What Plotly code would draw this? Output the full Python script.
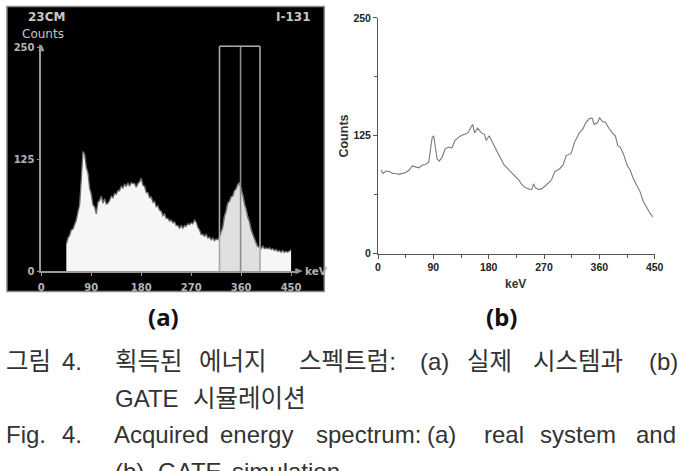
import plotly.graph_objects as go

W, H = 686, 471

# ---------------- data: panel (a) measured spectrum ----------------
a_kev = list(range(45, 451, 3))
a_counts = [30, 37, 40, 46, 47, 53, 57, 66, 74, 102, 134, 131, 116, 110, 93, 86, 74, 72, 64, 77,
            79, 84, 76, 81, 75, 76, 79, 84, 82, 87, 86, 90, 90, 95, 93, 97, 95, 99, 95, 99,
            98, 98, 94, 98, 100, 104, 96, 95, 88, 88, 82, 83, 77, 78, 72, 73, 68, 67, 62, 64,
            59, 59, 56, 57, 54, 55, 51, 51, 48, 51, 48, 51, 50, 53, 52, 54, 53, 57, 55, 49,
            46, 41, 41, 39, 41, 37, 38, 35, 37, 34, 36, 35, 38, 43, 49, 61, 67, 76, 78, 83,
            84, 90, 92, 97, 99, 91, 85, 75, 69, 60, 55, 46, 41, 34, 31, 27, 27, 25, 28, 25,
            26, 25, 26, 24, 25, 23, 24, 22, 23, 21, 23, 21, 22, 21, 23, 24]
a_window = [321, 359, 394]          # energy window lines (keV)
a_window_top = 252
a_xticks = [0, 90, 180, 270, 360, 450]
a_yticks = [0, 125, 250]

# ---------------- data: panel (b) GATE simulation ----------------
b_kev = [5, 8, 13, 18.6, 24, 29, 34.6, 40, 45, 50.6, 56, 61, 66.6, 72, 77, 82.5, 85, 88, 90.5, 93,
         96, 99.6, 104, 109, 114.5, 120, 125, 130.5, 136, 141, 146, 152, 154, 157, 162, 168, 173,
         176, 181, 186, 192, 197, 205, 213, 221, 229, 234, 240, 247.6, 250, 253, 256, 261, 266,
         274, 282, 287.6, 295.6, 301, 306, 314, 319.5, 327.5, 333, 338, 343.5, 348, 351.5, 357,
         360.5, 365, 370, 375.5, 381, 386, 390, 394, 399, 405, 410, 415, 421, 426, 431, 437, 442, 447]
b_counts = [88.6, 85, 87.6, 87, 85, 85, 84, 85, 86, 88.6, 93, 92, 91, 94, 94.5, 97, 109, 123, 125, 114.5,
            100.7, 98, 102, 111, 113, 112, 120, 123, 125.5, 126.5, 128, 135, 137, 128, 133, 128, 126.5,
            120, 125, 118, 111, 104, 94, 88.6, 83, 78, 73, 69.7, 68, 68, 74, 69.7, 68, 68.6,
            73, 78, 87, 90, 94, 104, 106, 118, 128, 132, 139, 143, 144, 137, 139,
            144, 140, 139, 133, 128, 125, 114.5, 113, 106, 94, 88.6, 80, 73, 66, 56, 49, 43, 39]
b_xticks = [0, 90, 180, 270, 360, 450]
b_yticks = [0, 125, 250]


def px(x):
    return x / W


def py(y):
    return 1 - y / H


fig = go.Figure()

# panel (a) traces
fig.add_trace(go.Scatter(x=a_kev, y=a_counts, mode="lines", fill="tozeroy",
                         fillcolor="#f6f6f6", line=dict(color="#6f6f6f", width=1.3),
                         xaxis="x", yaxis="y", hoverinfo="skip", showlegend=False))
win_x = [k for k in a_kev if a_window[0] <= k <= a_window[2]]
win_y = [c for k, c in zip(a_kev, a_counts) if a_window[0] <= k <= a_window[2]]
fig.add_trace(go.Scatter(x=win_x, y=win_y, mode="lines", fill="tozeroy",
                         fillcolor="#e0e0e0", line=dict(color="#6f6f6f", width=1.3),
                         xaxis="x", yaxis="y", hoverinfo="skip", showlegend=False))

# panel (b) trace
fig.add_trace(go.Scatter(x=b_kev, y=b_counts, mode="lines",
                         line=dict(color="#7a7a7a", width=1.1),
                         xaxis="x2", yaxis="y2", hoverinfo="skip", showlegend=False))

shapes = []
# black background of panel (a)
shapes.append(dict(type="rect", xref="paper", yref="paper", x0=px(4), x1=px(327),
                   y0=py(293), y1=py(0.5), fillcolor="black",
                   line=dict(color="#8a8a8a", width=1.5), layer="below"))
# energy window
for k in a_window:
    shapes.append(dict(type="line", xref="x", yref="y", x0=k, x1=k, y0=0, y1=a_window_top,
                       line=dict(color="#a8a8a8" if k != a_window[1] else "#8c8c8c", width=1.6),
                       layer="above"))
shapes.append(dict(type="line", xref="x", yref="y", x0=a_window[0], x1=a_window[2],
                   y0=a_window_top, y1=a_window_top, line=dict(color="#a8a8a8", width=1.6)))
# arrow heads of panel (a) axes
shapes.append(dict(type="path", xref="paper", yref="paper",
                   path=f"M {px(36.5)} {py(46)} L {px(39)} {py(40)} L {px(41.5)} {py(46)} Z",
                   fillcolor="#9a9a9a", line=dict(color="#9a9a9a", width=1)))
shapes.append(dict(type="path", xref="paper", yref="paper",
                   path=f"M {px(298)} {py(269.5)} L {px(304)} {py(272)} L {px(298)} {py(274.5)} Z",
                   fillcolor="#9a9a9a", line=dict(color="#9a9a9a", width=1)))

ann = []
fa = "DejaVu Sans"
ann.append(dict(x=px(23), y=py(11), text="<b>23CM</b>", xanchor="left", yanchor="middle",
                font=dict(family=fa, size=12, color="#c8c8c8")))
ann.append(dict(x=px(316), y=py(11), text="<b>I-131</b>", xanchor="right", yanchor="middle",
                font=dict(family=fa, size=12, color="#c8c8c8")))
ann.append(dict(x=px(17), y=py(29), text="Counts", xanchor="left", yanchor="middle",
                font=dict(family=fa, size=12, color="#c8c8c8")))
ann.append(dict(x=px(305), y=py(272), text="<b>keV</b>", xanchor="left", yanchor="middle",
                font=dict(family=fa, size=10.5, color="#b0b0b0")))
# panel (b) titles
fb = "Liberation Sans, Arial"
ann.append(dict(x=px(522), y=py(285), text="<b>keV</b>", xanchor="center", yanchor="middle",
                font=dict(family=fb, size=12, color="#333333")))
ann.append(dict(x=px(347), y=py(133), text="<b>Counts</b>", xanchor="center", yanchor="middle",
                textangle=-90, font=dict(family=fb, size=12.5, color="#333333")))
# sub captions
fc = "Noto Sans, Liberation Sans"
ann.append(dict(x=px(163), y=py(319), text="<b>(a)</b>", xanchor="center", yanchor="middle",
                font=dict(family=fc, size=24, color="#111111")))
ann.append(dict(x=px(507), y=py(319), text="<b>(b)</b>", xanchor="center", yanchor="middle",
                font=dict(family=fc, size=24, color="#111111")))

# figure caption, word by word (justified lines)
cap_font = "Liberation Sans, Noto Sans CJK KR"
cap_words = [
    (365, [("그림", 2), ("4.", 59), ("획득된", 113), ("에너지", 198), ("스펙트럼:", 300),
           ("(a)", 423), ("실제", 471), ("시스템과", 538), ("(b)", 656)]),
    (403, [("GATE", 113), ("시뮬레이션", 192)]),
    (440, [("Fig.", 2), ("4.", 59), ("Acquired", 112), ("energy", 220), ("spectrum:", 318),
           ("(a)", 431), ("real", 489), ("system", 546), ("and", 643)]),
    (478, [("(b)", 113), ("GATE", 157), ("simulation", 232)]),
]
for yy, words in cap_words:
    for w, xx in words:
        is_kr = any("\uac00" <= ch <= "\ud7a3" for ch in w)
        ann.append(dict(x=px(xx), y=py(yy), text=w, xanchor="left", yanchor="middle",
                        borderpad=0,
                        font=dict(family=cap_font, size=24.5 if is_kr else 24, color="#333333")))

for a in ann:
    a.update(xref="paper", yref="paper", showarrow=False)

tick_a = dict(family=fa, size=10, color="#b4b4b4")
fig.update_layout(
    width=W, height=H, margin=dict(l=0, r=0, t=0, b=0),
    paper_bgcolor="white", plot_bgcolor="rgba(0,0,0,0)",
    shapes=shapes, annotations=ann, showlegend=False,
    xaxis=dict(domain=[px(39), px(300)], range=[0, 462], showgrid=False, zeroline=False,
               showline=True, linecolor="#9a9a9a", linewidth=1.6, tickvals=a_xticks,
               ticktext=[f"<b>{v}</b>" for v in a_xticks], ticks="outside", ticklen=3,
               tickcolor="#9a9a9a", tickfont=tick_a, ticklabelstandoff=3, anchor="y",
               fixedrange=True),
    yaxis=dict(domain=[py(272), py(40.3)], range=[0, 253], showgrid=False, zeroline=False,
               showline=True, linecolor="#9a9a9a", linewidth=1.6, tickvals=a_yticks,
               ticktext=[f"<b>{v}</b>" for v in a_yticks], ticks="outside", ticklen=3,
               tickcolor="#9a9a9a", tickfont=tick_a, anchor="x", fixedrange=True),
    xaxis2=dict(domain=[px(381.7), px(663.3)], range=[0, 450], showgrid=False, zeroline=False,
                showline=True, linecolor="#555555", linewidth=1, tickvals=b_xticks,
                ticktext=[f"<b>{v}</b>" for v in b_xticks], ticks="outside", ticklen=4,
                tickcolor="#555555", tickfont=dict(family=fb, size=10.5, color="#222222"),
                minor=dict(dtick=45, ticks="outside", ticklen=3, tickcolor="#555555"),
                anchor="y2", fixedrange=True),
    yaxis2=dict(domain=[py(254), py(12.3)], range=[0, 250], showgrid=False, zeroline=False,
                showline=True, linecolor="#555555", linewidth=1, tickvals=b_yticks,
                ticktext=[f"<b>{v}</b>" for v in b_yticks], ticks="outside", ticklen=4,
                tickcolor="#555555", tickfont=dict(family=fb, size=10.5, color="#222222"),
                minor=dict(dtick=62.5, ticks="outside", ticklen=3, tickcolor="#555555"),
                anchor="x2", fixedrange=True),
)

fig.write_html("out.html", config={"displayModeBar": False, "responsive": False})
